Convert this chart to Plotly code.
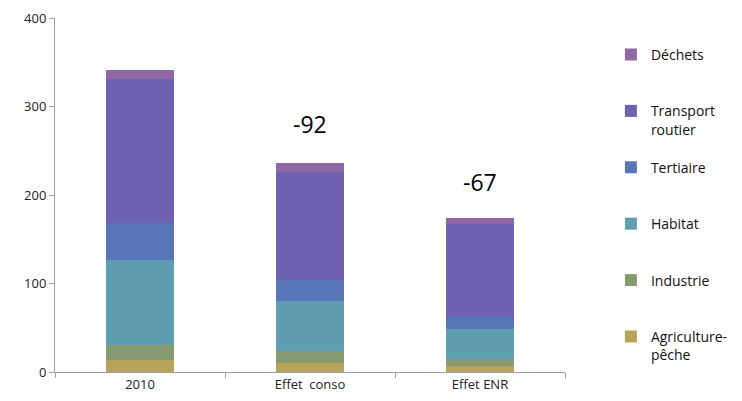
import plotly.graph_objects as go

categories = ["2010", "Effet\u00a0 conso", "Effet ENR"]

agriculture = [14, 10, 7]
industrie = [17, 13.5, 8]
habitat = [96, 57, 34]
tertiaire = [41, 24, 14]
transport = [163, 122, 104]
dechets = [10, 10, 7.5]

series_names = ["Agriculture-<br>pêche", "Industrie<br> ", "Habitat<br> ", "Tertiaire<br> ",
                "Transport<br>routier", "Déchets<br> "]
series_values = [agriculture, industrie, habitat, tertiaire, transport, dechets]
series_colors = ["#b8a35a", "#889a72", "#5e9eb0", "#5875b8", "#7060b0", "#9168a6"]

deltas = ["-92", "-67"]
delta_y = [280, 215]

fig = go.Figure()
n = len(series_names)
for i, (name, vals, col) in enumerate(zip(series_names, series_values, series_colors)):
    fig.add_trace(go.Bar(x=categories, y=vals, name=name, marker_color=col,
                         marker_line_width=0, legendgroup=f"g{i}",
                         legendrank=n - i))

for cat, txt, yy in zip(categories[1:], deltas, delta_y):
    fig.add_annotation(x=cat, y=yy, text=txt, showarrow=False, xref="x", yref="y",
                       font=dict(size=23, color="#000000", family="Open Sans"))

fig.update_layout(
    width=742, height=401,
    margin=dict(l=55, r=177, t=18, b=29, autoexpand=False),
    barmode="stack", bargap=0.6,
    plot_bgcolor="white", paper_bgcolor="white",
    font=dict(family="Open Sans", size=12, color="#222222"),
    showlegend=True,
    legend=dict(traceorder="grouped", tracegroupgap=17, valign="top",
                x=1.090, xanchor="left", y=0.941, yanchor="top",
                font=dict(size=14, color="#111111"), itemwidth=30),
    xaxis=dict(showline=True, linecolor="#a0a0a0", linewidth=1, ticks="outside",
               tickson="boundaries", ticklen=5, tickcolor="#a0a0a0", showgrid=False,
               tickfont=dict(size=13)),
    yaxis=dict(range=[0, 400], dtick=100, showline=True, linecolor="#a0a0a0", linewidth=1,
               ticks="outside", ticklen=5, tickcolor="#a0a0a0", showgrid=False,
               zeroline=False, tickfont=dict(size=13)),
)

fig.write_html("out.html")
